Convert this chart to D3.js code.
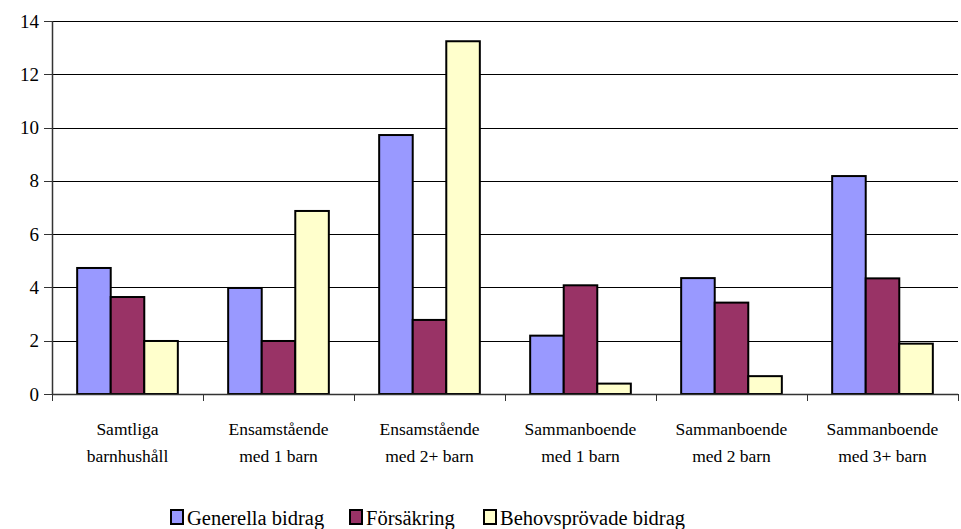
<!DOCTYPE html>
<html><head><meta charset="utf-8">
<script src="https://cdn.jsdelivr.net/npm/d3@7"></script>
</head><body style="margin:0;background:#fff"><svg id="c" width="961" height="529" style="display:block"></svg>
<script>
const categories = [["Samtliga","barnhushåll"],["Ensamstående","med 1 barn"],["Ensamstående","med 2+ barn"],["Sammanboende","med 1 barn"],["Sammanboende","med 2 barn"],["Sammanboende","med 3+ barn"]];
const seriesNames = ["Generella bidrag","Försäkring","Behovsprövade bidrag"];
const generella = [4.73, 3.98, 9.72, 2.19, 4.35, 8.18];
const forsakring = [3.64, 1.99, 2.78, 4.08, 3.43, 4.34];
const behov = [1.99, 6.87, 13.24, 0.39, 0.67, 1.89];
const yTicks = [0,2,4,6,8,10,12,14];
const colors = ["#9999FF","#993366","#FFFFCC"];

const series = [generella, forsakring, behov];
const svg = d3.select("#c");
const L = 52, R = 958, T = 21, B = 394;
const x0 = d3.scaleBand().domain(d3.range(categories.length)).range([L, R]);
const groupW = x0.bandwidth();
const barW = groupW / 4.5;
const x1 = d3.scaleBand().domain(d3.range(3)).range([barW*0.75, barW*3.75]);
const y = d3.scaleLinear().domain([0,14]).range([B, T]);

svg.append("g").selectAll("line").data(yTicks.filter(d=>d>0)).join("line")
  .attr("x1", L).attr("x2", R).attr("y1", d=>Math.round(y(d))+0.5).attr("y2", d=>Math.round(y(d))+0.5)
  .attr("stroke", "#000").attr("stroke-width", 1);

series.forEach((s, si) => {
  svg.append("g").selectAll("rect").data(s).join("rect")
    .attr("x", (d,i)=>x0(i)+x1(si))
    .attr("y", d=>y(d))
    .attr("width", x1.bandwidth())
    .attr("height", d=>B - y(d))
    .attr("fill", colors[si]).attr("stroke", "#000").attr("stroke-width", 2);
});

// y axis (manual so font attrs are plain)
svg.append("line").attr("x1", L+0.5).attr("x2", L+0.5).attr("y1", T).attr("y2", B+1).attr("stroke","#333").attr("stroke-width",1.5);
svg.append("g").selectAll("line").data(yTicks).join("line")
  .attr("x1", L-8).attr("x2", L).attr("y1", d=>Math.round(y(d))+0.5).attr("y2", d=>Math.round(y(d))+0.5).attr("stroke","#333");
svg.append("g").selectAll("text").data(yTicks).join("text")
  .attr("x", L-13).attr("y", d=>y(d)+6.5).attr("text-anchor","end")
  .attr("font-family","Liberation Serif").attr("font-size",19).text(d=>d);

// x axis
svg.append("line").attr("x1", L).attr("x2", R).attr("y1", B+0.5).attr("y2", B+0.5).attr("stroke","#333").attr("stroke-width",1.5);
svg.append("g").selectAll("line").data(d3.range(categories.length+1)).join("line")
  .attr("x1", i=>Math.round(L + i*groupW)+0.5).attr("x2", i=>Math.round(L + i*groupW)+0.5)
  .attr("y1", B).attr("y2", B+7).attr("stroke","#333");
categories.forEach((c,i)=>{
  c.forEach((line,j)=>{
    svg.append("text").attr("x", x0(i)+groupW/2).attr("y", 435+j*27).attr("text-anchor","middle")
      .attr("font-family","Liberation Serif").attr("font-size",17.5).text(line);
  });
});

// legend
const legX = [171, 350, 484];
seriesNames.forEach((n,i)=>{
  svg.append("rect").attr("x", legX[i]).attr("y", 510).attr("width", 12).attr("height", 14)
    .attr("fill", colors[i]).attr("stroke","#000").attr("stroke-width",2);
  svg.append("text").attr("x", legX[i]+16).attr("y", 525).attr("font-family","Liberation Serif").attr("font-size",20.5).text(n);
});
</script></body></html>
